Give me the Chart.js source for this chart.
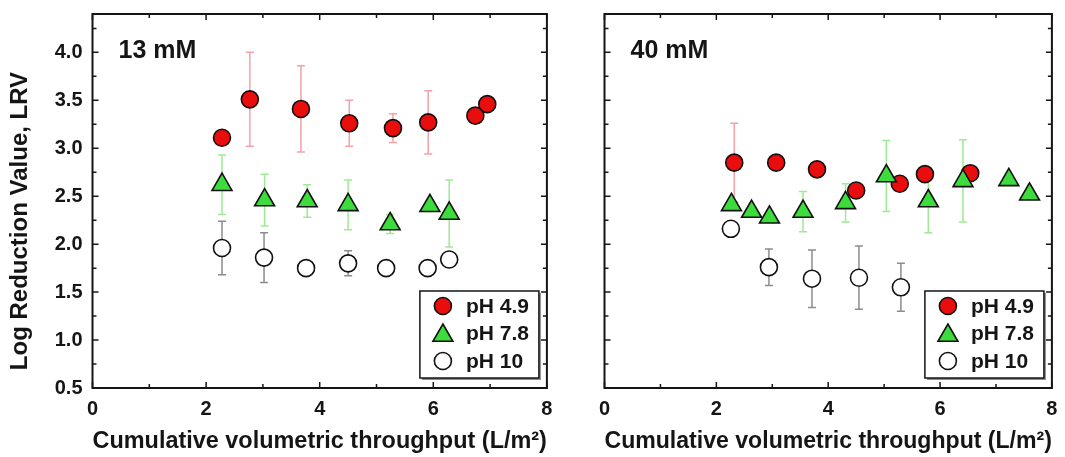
<!DOCTYPE html>
<html>
<head>
<meta charset="utf-8">
<script src="https://cdn.jsdelivr.net/npm/chart.js@4.4.1/dist/chart.umd.min.js"></script>
<style>
  html, body { margin: 0; padding: 0; background: #fff; }
  #wrap { position: relative; width: 1065px; height: 457px; }
  #c13 { position: absolute; left: 0; top: 0; }
  #c40 { position: absolute; left: 560px; top: 0; }
</style>
</head>
<body>
<div id="wrap">
  <canvas id="c13" width="560" height="457"></canvas>
  <canvas id="c40" width="505" height="457"></canvas>
</div>
<script>
// axis ticks
const xTickVals = [0, 2, 4, 6, 8];
const xMinorVals = [1, 3, 5, 7];
const yTickVals = [0.5, 1.0, 1.5, 2.0, 2.5, 3.0, 3.5, 4.0];
const yMinorVals = [0.75, 1.25, 1.75, 2.25, 2.75, 3.25, 3.75, 4.25];
const seriesLabels = ["pH 4.9", "pH 7.8", "pH 10"];

// 13 mM
const x13_ph49 = [2.28, 2.77, 3.67, 4.52, 5.29, 5.91, 6.74, 6.95];
const y13_ph49 = [3.11, 3.51, 3.41, 3.26, 3.21, 3.27, 3.34, 3.46];
const e13_ph49 = [0, 0.49, 0.45, 0.24, 0.15, 0.33, 0, 0];

const x13_ph78 = [2.28, 3.03, 3.78, 4.50, 5.24, 5.94, 6.28];
const y13_ph78 = [2.62, 2.46, 2.45, 2.41, 2.21, 2.40, 2.32];
const e13_ph78 = [0.31, 0.27, 0.17, 0.26, 0.10, 0.06, 0.35];

const x13_ph10 = [2.28, 3.02, 3.76, 4.50, 5.17, 5.90, 6.28];
const y13_ph10 = [1.96, 1.86, 1.75, 1.80, 1.75, 1.75, 1.84];
const e13_ph10 = [0.28, 0.26, 0, 0.13, 0, 0, 0];

// 40 mM
const x40_ph49 = [2.32, 3.07, 3.80, 4.50, 5.28, 5.73, 6.54];
const y40_ph49 = [2.85, 2.85, 2.78, 2.56, 2.63, 2.73, 2.74];
const e40_ph49 = [0.41, 0, 0, 0, 0, 0, 0];

const x40_ph78 = [2.27, 2.63, 2.95, 3.55, 4.31, 5.04, 5.79, 6.41, 7.23, 7.60];
const y40_ph78 = [2.41, 2.34, 2.28, 2.34, 2.43, 2.71, 2.45, 2.66, 2.67, 2.52];
const e40_ph78 = [0, 0, 0, 0.21, 0.20, 0.37, 0.33, 0.43, 0, 0];

const x40_ph10 = [2.26, 2.94, 3.71, 4.55, 5.30];
const y40_ph10 = [2.16, 1.76, 1.64, 1.65, 1.55];
const e40_ph10 = [0, 0.19, 0.30, 0.33, 0.25];

const FONT = "'Liberation Sans', Arial, sans-serif";
const INK = "#151515";

function pts(xs, ys) {
  return xs.map((v, i) => ({ x: v, y: ys[i] }));
}

function sets(xa, ya, ea, xb, yb, eb, xc, yc, ec) {
  return [
    { label: seriesLabels[1], data: pts(xb, yb), errs: eb, errColor: "#9eea94",
      pointStyle: "triangle", pointRadius: 11.5, backgroundColor: "#3ddc3d", order: 0 },
    { label: seriesLabels[0], data: pts(xa, ya), errs: ea, errColor: "#f2a2a8",
      pointStyle: "circle", pointRadius: 8.5, backgroundColor: "#ea0d0d", order: 1 },
    { label: seriesLabels[2], data: pts(xc, yc), errs: ec, errColor: "#8c8c8c",
      pointStyle: "circle", pointRadius: 8.5, backgroundColor: "#ffffff", order: 2 }
  ].map(d => Object.assign(d, {
    borderColor: "#111", pointBorderWidth: 1.6, pointHoverRadius: d.pointRadius, showLine: false
  }));
}

// error bars under the markers
const errorBars = {
  id: "errorBars",
  beforeDatasetsDraw(chart) {
    const { ctx, scales: { x, y } } = chart;
    ctx.save();
    ctx.lineWidth = 1.5;
    chart.data.datasets.forEach(ds => {
      ctx.strokeStyle = ds.errColor;
      ds.data.forEach((p, i) => {
        const e = ds.errs[i];
        if (!e) return;
        const px = x.getPixelForValue(p.x);
        const top = y.getPixelForValue(p.y + e);
        const bot = y.getPixelForValue(p.y - e);
        ctx.beginPath();
        ctx.moveTo(px, top); ctx.lineTo(px, bot);
        ctx.moveTo(px - 4, top); ctx.lineTo(px + 4, top);
        ctx.moveTo(px - 4, bot); ctx.lineTo(px + 4, bot);
        ctx.stroke();
      });
    });
    ctx.restore();
  }
};

// box + inward ticks on all sides, panel label, legend, y title
const decor = {
  id: "decor",
  afterDatasetsDraw(chart, args, opts) {
    const { ctx, chartArea: a, scales: { x, y } } = chart;
    ctx.save();
    ctx.strokeStyle = INK;
    ctx.lineWidth = 1.5;
    ctx.beginPath();
    const xt = (v, len) => {
      const p = x.getPixelForValue(v);
      ctx.moveTo(p, a.bottom); ctx.lineTo(p, a.bottom - len);
      ctx.moveTo(p, a.top); ctx.lineTo(p, a.top + len);
    };
    const yt = (v, len) => {
      const p = y.getPixelForValue(v);
      ctx.moveTo(a.left, p); ctx.lineTo(a.left + len, p);
      ctx.moveTo(a.right, p); ctx.lineTo(a.right - len, p);
    };
    xTickVals.forEach(v => xt(v, 6));
    xMinorVals.forEach(v => xt(v, 4));
    yTickVals.forEach(v => yt(v, 6));
    yMinorVals.forEach(v => yt(v, 4));
    ctx.stroke();
    ctx.lineWidth = 2;
    ctx.strokeRect(a.left, a.top, a.right - a.left, a.bottom - a.top);

    // panel label
    ctx.fillStyle = INK;
    ctx.font = "bold 25px " + FONT;
    ctx.textAlign = "left";
    ctx.textBaseline = "middle";
    ctx.fillText(opts.panel, a.left + 26, a.top + 37);

    // legend
    const w = 119, h = 87;
    const bx = a.right - 8 - w, by = a.bottom - 10 - h;
    ctx.fillStyle = "#8a8a8a";
    ctx.fillRect(bx + 2, by + 2, w, h);
    ctx.fillStyle = "#fff";
    ctx.fillRect(bx, by, w, h);
    ctx.lineWidth = 1.5;
    ctx.strokeStyle = INK;
    ctx.strokeRect(bx, by, w, h);
    const order = [1, 0, 2];
    order.forEach((di, row) => {
      const ds = chart.data.datasets[di];
      const cy = by + 15 + row * 27.5;
      ctx.fillStyle = ds.backgroundColor;
      ctx.strokeStyle = "#111";
      ctx.lineWidth = 1.6;
      Chart.helpers.drawPoint(ctx, { pointStyle: ds.pointStyle, radius: ds.pointRadius, borderWidth: 1.6, rotation: 0 },
        bx + 23, cy + (ds.pointStyle === "triangle" ? 2 : 0));
      ctx.fillStyle = INK;
      ctx.font = "bold 21px " + FONT;
      ctx.textAlign = "left";
      ctx.textBaseline = "middle";
      ctx.fillText(ds.label, bx + 46, cy + 1);
    });

    if (opts.yTitle) {
      ctx.translate(20, 221);
      ctx.rotate(-Math.PI / 2);
      ctx.fillStyle = INK;
      ctx.font = "bold 24px " + FONT;
      ctx.textAlign = "center";
      ctx.textBaseline = "middle";
      ctx.fillText(opts.yTitle, 0, 0);
    }
    ctx.restore();
  }
};

function makeChart(id, datasets, cfg) {
  return new Chart(document.getElementById(id), {
    type: "scatter",
    data: { datasets },
    plugins: [errorBars, decor],
    options: {
      responsive: false,
      animation: false,
      layout: { padding: { top: 14, right: cfg.padRight, bottom: 0, left: 0 } },
      plugins: {
        legend: { display: false },
        tooltip: { enabled: false },
        decor: { panel: cfg.panel, yTitle: cfg.yTitle }
      },
      scales: {
        x: {
          type: "linear", min: 0, max: 8,
          afterBuildTicks: s => { s.ticks = xTickVals.map(v => ({ value: v })); },
          afterFit: s => { s.height = 69; s.paddingLeft = 0; s.paddingRight = 0; },
          grid: { display: false, drawTicks: false },
          border: { display: false },
          ticks: { color: INK, padding: 9, font: { family: FONT, size: 20, weight: "bold" } },
          title: {
            display: true, text: "Cumulative volumetric throughput (L/m²)", color: INK,
            padding: { top: 0, bottom: 1 },
            font: { family: FONT, size: 24, weight: "bold" }
          }
        },
        y: {
          type: "linear", min: 0.5, max: 4.4,
          afterBuildTicks: s => { s.ticks = yTickVals.map(v => ({ value: v })); },
          afterFit: s => { s.width = cfg.yWidth; s.paddingTop = 0; s.paddingBottom = 0; },
          grid: { display: false, drawTicks: false },
          border: { display: false },
          ticks: {
            display: cfg.yLabels, color: INK, padding: 10,
            font: { family: FONT, size: 20, weight: "bold" },
            callback: v => v.toFixed(1)
          }
        }
      }
    }
  });
}

makeChart("c13",
  sets(x13_ph49, y13_ph49, e13_ph49, x13_ph78, y13_ph78, e13_ph78, x13_ph10, y13_ph10, e13_ph10),
  { panel: "13 mM", yTitle: "Log Reduction Value, LRV", yLabels: true, yWidth: 92.5, padRight: 11 });

makeChart("c40",
  sets(x40_ph49, y40_ph49, e40_ph49, x40_ph78, y40_ph78, e40_ph78, x40_ph10, y40_ph10, e40_ph10),
  { panel: "40 mM", yTitle: "", yLabels: false, yWidth: 44.5, padRight: 5 });
</script>
</body>
</html>
